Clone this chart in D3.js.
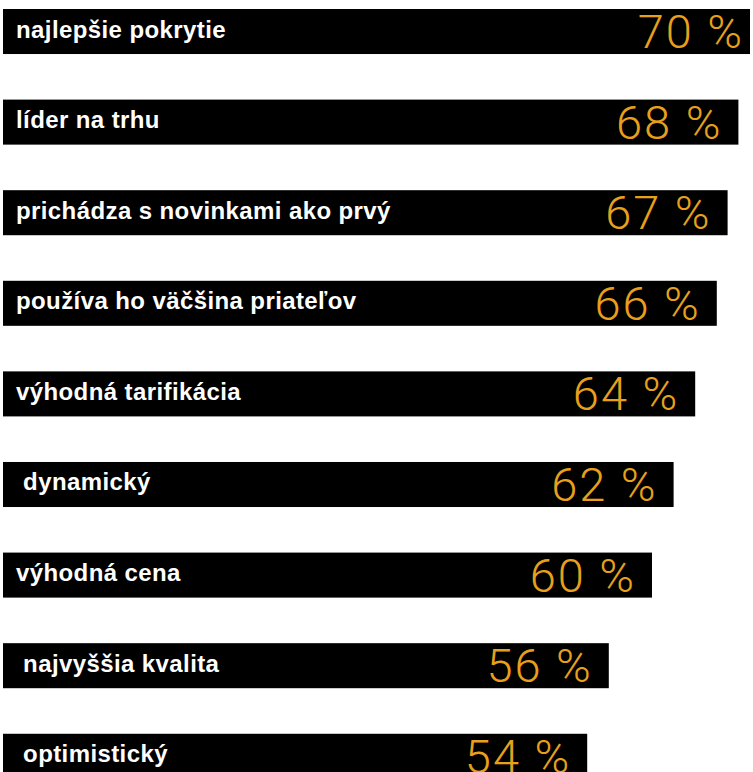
<!DOCTYPE html>
<html>
<head>
<meta charset="utf-8">
<script src="https://cdn.jsdelivr.net/npm/d3@7"></script>
<style>
  html, body { margin: 0; padding: 0; background: #fff; }
  svg { display: block; }
  text { white-space: pre; }
</style>
</head>
<body>
<div id="chart"></div>
<script>
// chart data (some labels start with a space, as in the original)
const categories = [
  "najlepšie pokrytie",
  "líder na trhu",
  "prichádza s novinkami ako prvý",
  "používa ho väčšina priateľov",
  "výhodná tarifikácia",
  " dynamický",
  "výhodná cena",
  " najvyššia kvalita",
  " optimistický"
];
const values = [70, 68, 67, 66, 64, 62, 60, 56, 54];

const width = 750, height = 772;

const svg = d3.select("#chart").append("svg")
    .attr("width", width)
    .attr("height", height);

const bh = 45;

const x = d3.scaleLinear().domain([0, 70]).range([4, 760]);
// step ~90.6px, bars 45px tall
const y = d3.scaleBand().domain(categories)
    .range([9, 9 + 90.6 * 8 + bh])
    .paddingInner(0.503).paddingOuter(0);

const row = svg.selectAll("g.row")
    .data(categories)
    .enter().append("g")
    .attr("class", "row")
    .attr("transform", d => "translate(0," + y(d) + ")");

row.append("rect")
    .attr("x", 3)
    .attr("y", 0)
    .attr("width", (d, i) => x(values[i]) - 3)
    .attr("height", y.bandwidth())
    .attr("fill", "#000");

row.append("text")
    .attr("x", 16)
    .attr("y", bh / 2 + 6)
    .attr("fill", "#fff")
    .style("font-family", "'Liberation Sans', Arial, sans-serif")
    .style("font-weight", "bold")
    .style("font-size", "24px")
    .style("letter-spacing", "0.4px")
    .text(d => d);

row.append("text")
    .attr("x", (d, i) => x(values[i]) - 16)
    .attr("y", bh / 2 + 16.5)
    .attr("text-anchor", "end")
    .attr("fill", "#e8a01c")
    .style("font-family", "Roboto, sans-serif")
    .style("font-weight", 300)
    .style("font-size", "47px")
    .style("letter-spacing", "2px")
    .text((d, i) => values[i] + " %");
</script>
</body>
</html>
